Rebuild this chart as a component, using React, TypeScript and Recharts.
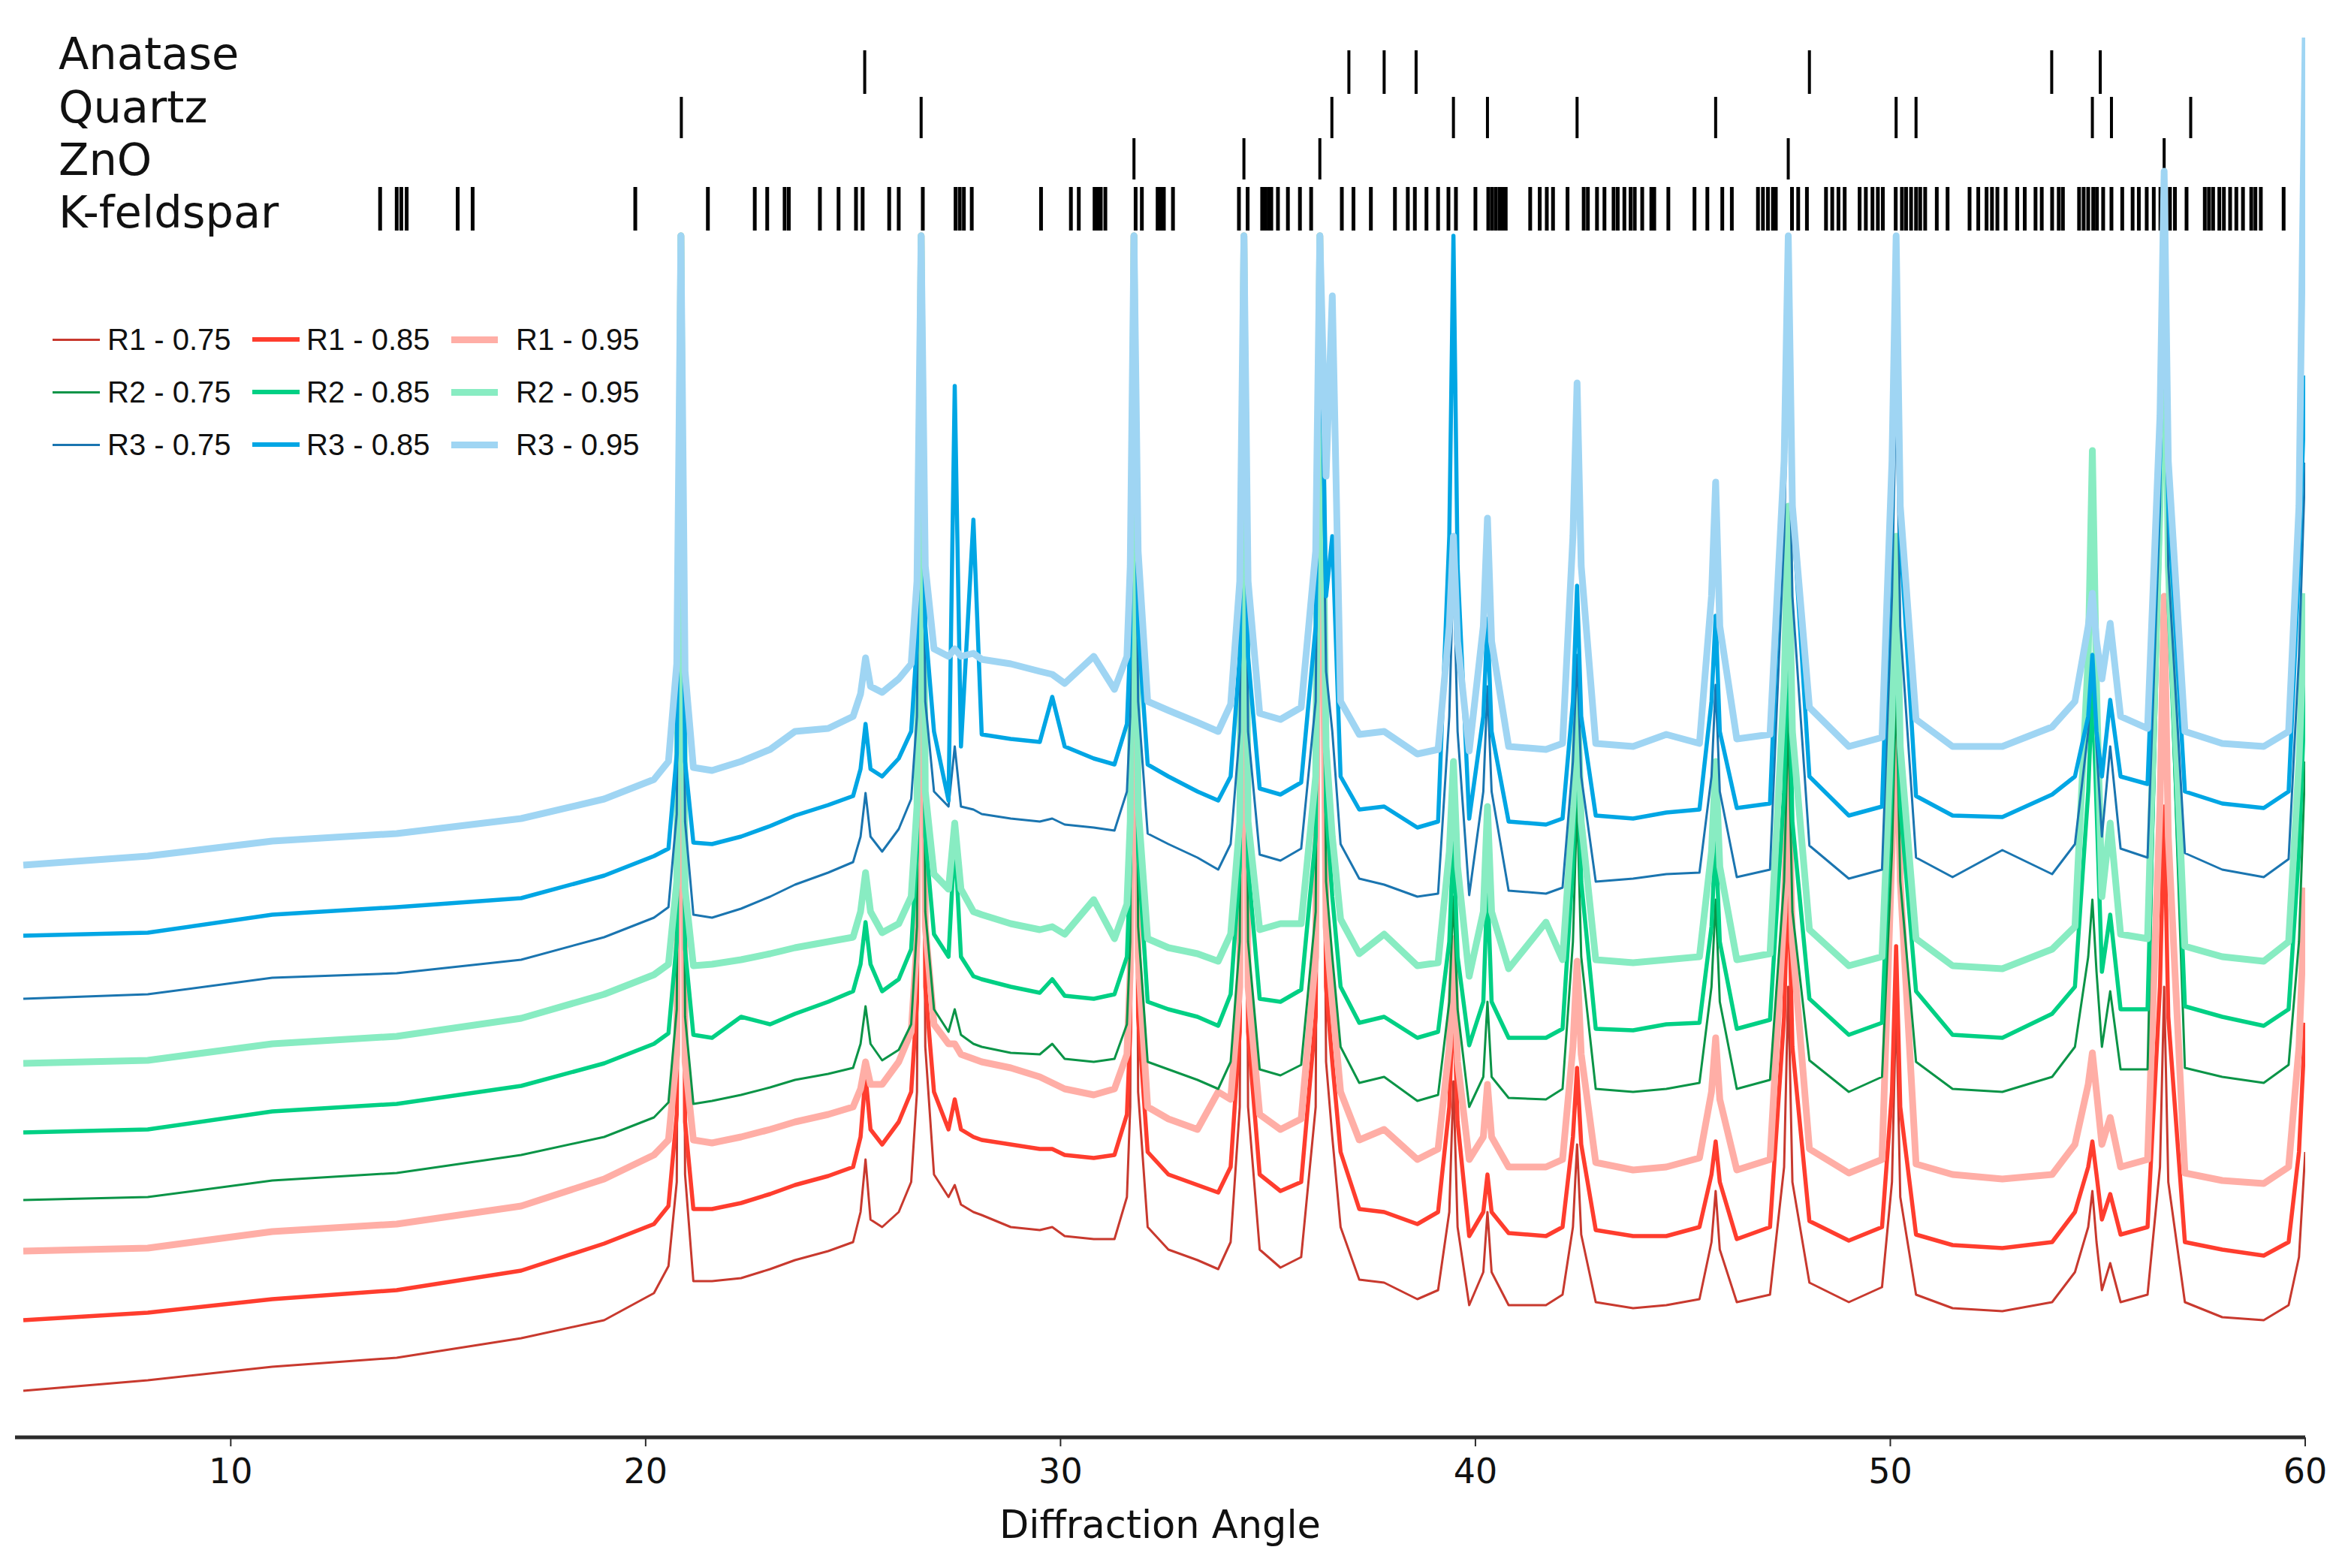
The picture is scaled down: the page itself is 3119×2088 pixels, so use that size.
import React from 'react';
import { LineChart, Line, XAxis, YAxis, ReferenceLine } from 'recharts';

// 2-theta grid shared by all nine patterns
const ANGLES = [
  5, 8, 11, 14, 17, 19, 20.2, 20.55, 20.75, 20.85,
  20.95, 21.15, 21.6, 22.3, 23.0, 23.6, 24.4, 25.0, 25.18, 25.3,
  25.42, 25.7, 26.1, 26.4, 26.54, 26.64, 26.74, 26.95, 27.3, 27.45,
  27.6, 27.9, 28.1, 28.8, 29.5, 29.8, 30.1, 30.8, 31.3, 31.6,
  31.68, 31.77, 31.87, 32.1, 32.6, 33.3, 33.8, 34.1, 34.32, 34.42,
  34.52, 34.8, 35.3, 35.8, 36.15, 36.25, 36.4, 36.55, 36.75, 37.2,
  37.8, 38.6, 39.1, 39.37, 39.47, 39.57, 39.85, 40.19, 40.29, 40.39,
  40.8, 41.7, 42.1, 42.35, 42.45, 42.55, 42.9, 43.8, 44.6, 45.4,
  45.69, 45.79, 45.89, 46.3, 47.1, 47.44, 47.54, 47.64, 48.05, 49.0,
  49.8, 50.04, 50.14, 50.24, 50.62, 51.5, 52.7, 53.9, 54.45, 54.77,
  54.87, 54.97, 55.1, 55.3, 55.55, 56.2, 56.5, 56.6, 56.7, 57.1,
  58.0, 59.0, 59.6, 59.85, 60,
];

// offset intensities (a.u.), strong reflections are cut at the panel top
const R1_075 = [
  31, 38, 47, 53, 66, 78, 96, 114, 170, 800,
  175, 104, 104, 106, 112, 118, 124, 130, 150, 185,
  145, 140, 150, 170, 230, 800, 260, 175, 160, 168,
  155, 150, 148, 140, 138, 140, 134, 132, 132, 160,
  220, 800, 230, 140, 125, 118, 112, 130, 220, 800,
  220, 125, 113, 120, 220, 800, 250, 200, 140, 105,
  103, 92, 98, 150, 237, 140, 88, 110, 150, 110,
  88, 88, 95, 140, 195, 135, 90, 86, 88, 92,
  130, 164, 125, 90, 95, 180, 300, 170, 103, 90,
  100, 170, 290, 160, 95, 86, 84, 90, 110, 140,
  164, 130, 98, 116, 90, 95, 180, 300, 170, 90,
  80, 78, 88, 120, 190,
];
const R1_085 = [
  78, 83, 92, 98, 111, 129, 142, 154, 215, 800,
  210, 152, 152, 156, 162, 168, 174, 180, 200, 241,
  205, 195, 210, 230, 290, 800, 300, 230, 205, 225,
  205, 200, 198, 195, 192, 192, 188, 186, 188, 215,
  270, 800, 280, 190, 175, 168, 163, 180, 270, 800,
  270, 175, 164, 170, 280, 800, 300, 250, 190, 152,
  150, 142, 150, 220, 297, 210, 134, 150, 175, 150,
  136, 134, 140, 200, 246, 195, 138, 134, 134, 140,
  175, 197, 170, 132, 140, 280, 380, 260, 144, 131,
  140, 230, 327, 220, 135, 128, 126, 130, 150, 180,
  197, 175, 145, 162, 135, 140, 300, 420, 280, 130,
  125, 121, 130, 190, 276,
];
const R1_095 = [
  124, 126, 137, 142, 154, 172, 188, 198, 255, 800,
  250, 198, 196, 200, 205, 210, 215, 220, 232, 250,
  235, 235, 250, 270, 330, 800, 340, 275, 262, 262,
  255, 252, 250, 246, 240, 236, 232, 228, 232, 255,
  310, 800, 320, 220, 212, 205, 230, 225, 300, 800,
  300, 215, 205, 212, 320, 800, 340, 290, 230, 198,
  205, 185, 192, 260, 332, 250, 185, 200, 235, 200,
  180, 180, 185, 260, 317, 255, 183, 178, 180, 186,
  230, 266, 225, 178, 185, 350, 450, 330, 192, 176,
  185, 390, 500, 370, 182, 175, 172, 175, 195, 235,
  256, 230, 195, 213, 180, 185, 420, 560, 400, 176,
  171, 169, 180, 260, 366,
];
const R2_075 = [
  158, 160, 171, 176, 188, 200, 213, 223, 285, 800,
  280, 222, 224, 228, 233, 238, 242, 246, 262, 287,
  262, 251, 258, 275, 340, 800, 350, 285, 270, 285,
  268, 262, 260, 256, 255, 262, 252, 250, 252, 275,
  330, 800, 340, 250, 245, 238, 232, 250, 330, 800,
  330, 245, 241, 248, 350, 800, 370, 320, 260, 236,
  240, 224, 228, 290, 360, 285, 220, 240, 290, 240,
  226, 225, 232, 330, 424, 320, 232, 230, 232, 236,
  300, 358, 290, 232, 238, 370, 480, 350, 251, 230,
  240, 390, 500, 370, 250, 232, 230, 240, 260, 320,
  358, 310, 260, 297, 245, 245, 600, 800, 560, 246,
  240, 236, 248, 330, 450,
];
const R2_085 = [
  203, 205, 217, 222, 234, 249, 262, 269, 330, 800,
  325, 268, 266, 280, 275, 282, 290, 297, 315, 343,
  315, 297, 305, 325, 390, 800, 400, 335, 320, 399,
  320, 307, 305, 300, 296, 305, 294, 292, 295, 320,
  380, 800, 390, 290, 285, 280, 274, 295, 380, 800,
  380, 292, 290, 298, 400, 800, 420, 360, 300, 276,
  280, 266, 270, 330, 400, 320, 261, 290, 370, 290,
  266, 266, 272, 380, 475, 370, 272, 271, 275, 276,
  340, 400, 330, 272, 278, 430, 540, 410, 292, 268,
  276, 440, 560, 420, 297, 268, 266, 282, 300, 430,
  501, 420, 310, 348, 285, 285, 600, 800, 560, 287,
  280, 274, 285, 390, 501,
];
const R2_095 = [
  249, 251, 262, 267, 279, 295, 308, 315, 370, 800,
  365, 314, 315, 318, 322, 326, 330, 333, 350, 376,
  350, 336, 342, 360, 420, 800, 430, 375, 365, 409,
  365, 350, 348, 342, 338, 340, 335, 358, 332, 355,
  410, 800, 420, 332, 326, 322, 317, 335, 410, 800,
  410, 338, 342, 342, 440, 800, 460, 400, 345, 322,
  335, 314, 316, 390, 450, 380, 307, 350, 420, 350,
  312, 343, 318, 420, 501, 410, 318, 316, 318, 320,
  390, 450, 380, 318, 322, 500, 620, 470, 338, 314,
  320, 480, 600, 460, 332, 314, 312, 325, 340, 520,
  657, 500, 360, 409, 335, 332, 620, 800, 580, 327,
  320, 317, 330, 450, 562,
];
const R3_075 = [
  292, 295, 306, 309, 318, 333, 346, 353, 415, 800,
  410, 348, 346, 352, 360, 368, 376, 383, 400, 429,
  400, 390, 405, 425, 480, 800, 490, 430, 420, 460,
  420, 418, 415, 412, 410, 412, 408, 406, 404, 430,
  480, 800, 490, 402, 395, 386, 378, 395, 470, 800,
  470, 388, 384, 392, 490, 800, 510, 470, 395, 372,
  368, 360, 362, 480, 580, 470, 361, 430, 500, 430,
  364, 362, 366, 450, 521, 440, 370, 372, 375, 376,
  440, 501, 430, 373, 378, 600, 720, 560, 394, 372,
  378, 560, 700, 540, 386, 373, 391, 375, 395, 470,
  521, 460, 400, 460, 392, 386, 620, 800, 580, 389,
  378, 373, 385, 520, 649,
];
const R3_085 = [
  334, 336, 348, 353, 359, 374, 387, 392, 455, 800,
  450, 396, 395, 400, 407, 414, 421, 427, 445, 475,
  445, 440, 452, 470, 530, 800, 540, 470, 424, 700,
  460, 611, 468, 465, 463, 493, 460, 452, 448, 475,
  530, 800, 540, 448, 440, 430, 424, 440, 520, 800,
  520, 432, 428, 436, 540, 800, 560, 600, 440, 418,
  420, 406, 410, 600, 800, 580, 412, 480, 545, 470,
  410, 408, 412, 490, 567, 480, 414, 412, 416, 418,
  490, 547, 470, 419, 422, 650, 800, 620, 440, 414,
  420, 620, 780, 600, 427, 414, 413, 428, 440, 480,
  521, 470, 440, 491, 440, 435, 650, 800, 620, 430,
  422, 419, 430, 580, 707,
];
const R3_095 = [
  381, 387, 397, 402, 412, 425, 438, 450, 515, 800,
  510, 446, 444, 450, 458, 470, 472, 480, 495, 519,
  500, 496, 505, 515, 570, 800, 580, 525, 520, 525,
  520, 522, 518, 515, 510, 508, 502, 520, 498, 520,
  580, 800, 590, 490, 484, 476, 470, 488, 570, 800,
  570, 482, 478, 486, 590, 800, 640, 760, 490, 468,
  470, 455, 458, 540, 600, 530, 457, 540, 612, 530,
  460, 458, 462, 600, 702, 580, 462, 460, 468, 462,
  560, 636, 540, 465, 468, 650, 800, 620, 486, 460,
  466, 650, 800, 620, 478, 460, 460, 473, 490, 540,
  562, 530, 505, 542, 480, 472, 680, 843, 650, 470,
  462, 460, 470, 620, 932,
];

const SERIES_NAMES = [
  'R1 - 0.75', 'R1 - 0.85', 'R1 - 0.95',
  'R2 - 0.75', 'R2 - 0.85', 'R2 - 0.95',
  'R3 - 0.75', 'R3 - 0.85', 'R3 - 0.95',
];
const SERIES_VALUES = [R1_075, R1_085, R1_095, R2_075, R2_085, R2_095, R3_075, R3_085, R3_095];

// reference phase positions (2-theta)
const PHASE_NAMES = ['Anatase', 'Quartz', 'ZnO', 'K-feldspar'];
const ANATASE = [25.28, 36.95, 37.8, 38.57, 48.05, 53.89, 55.06];
const QUARTZ = [20.86, 26.64, 36.54, 39.47, 40.29, 42.45, 45.79, 50.14, 50.62, 54.87, 55.33, 57.24, 59.96];
const ZNO = [31.77, 34.42, 36.25, 47.54, 56.6];
const K_FELDSPAR = [
  13.6, 14.0, 14.11, 14.24, 15.47, 15.83, 19.75, 21.5, 22.63, 22.93, 23.35, 23.45,
  24.2, 24.65, 25.07, 25.23, 25.87, 26.1, 26.68, 27.47, 27.57, 27.67, 27.86,
  29.53, 30.25, 30.44, 30.82, 30.9, 30.97, 31.08, 31.81, 31.96, 32.34, 32.42, 32.49,
  32.71, 34.3, 34.51, 34.86, 34.94, 35.02, 35.08, 35.24, 35.48, 35.77, 36.04, 36.78,
  37.06, 37.48, 38.06, 38.37, 38.54, 38.82, 39.1, 39.35, 39.53, 40.0, 40.31, 40.4,
  40.49, 40.58, 40.66, 40.73, 41.32, 41.55, 41.72, 41.87, 42.22, 42.61, 42.71, 42.93,
  43.11, 43.33, 43.43, 43.59, 43.74, 43.84, 44.02, 44.24, 44.31, 44.65, 45.28, 45.59,
  45.95, 46.18, 46.81, 46.93, 47.05, 47.17, 47.24, 47.63, 47.78, 47.99, 48.45, 48.6,
  48.75, 48.9, 49.26, 49.41, 49.57, 49.7, 49.82, 50.13, 50.28, 50.38, 50.5, 50.62,
  50.72, 50.84, 51.12, 51.38, 51.91, 52.12, 52.32, 52.45, 52.58, 52.78, 53.06, 53.24,
  53.5, 53.65, 53.9, 54.06, 54.16, 54.55, 54.66, 54.77, 54.89, 54.98, 55.13, 55.33,
  55.59, 55.84, 55.99, 56.18, 56.35, 56.51, 56.62, 56.74, 56.86, 57.14, 57.58, 57.68,
  57.78, 57.93, 58.04, 58.19, 58.34, 58.5, 58.7, 58.8, 58.93, 59.48,
];
const PHASE_POSITIONS = [ANATASE, QUARTZ, ZNO, K_FELDSPAR];

const X_TICKS = [10, 20, 30, 40, 50, 60];

// styling / layout
const W = 3119;
const H = 2088;
const FONT = '"DejaVu Sans", Verdana, sans-serif';
const LEGEND_FONT = '"Liberation Sans", Arial, sans-serif';
const COLORS = ['#c8392e', '#ff3d2e', '#ffaea6', '#0a9447', '#00d084', '#88ecc2', '#1a75b0', '#00a6e4', '#9fd5f3'];
const WIDTHS = [3, 5.5, 9, 3, 5.5, 9, 3, 5.5, 9];
// y bands (in intensity units) of the phase marker rows
const ROW_BANDS = [
  [894.5, 923.5],
  [865, 892.5],
  [837.5, 865],
  [803.5, 832.5],
];
const ROW_STROKES = [4, 4, 4, 5];
const LABEL_BASELINES = [92, 163, 233, 303];
const LEGEND_ROW_Y = [452, 522, 592];
const LEGEND_LINE_X = [[70, 133], [336, 399], [601, 663]];
const LEGEND_TEXT_X = [143, 408, 687];

const keyOf = (i: number) => `s${i}`;

const chartData = ANGLES.map((angle, i) => {
  const row: Record<string, number> = { angle };
  SERIES_VALUES.forEach((vals, s) => {
    row[keyOf(s)] = vals[i];
  });
  return row;
});

export default function App() {
  return (
    <div style={{ position: 'absolute', left: 0, top: 0, width: W, height: H, background: '#fff', overflow: 'hidden' }}>
      <LineChart width={W} height={H} data={chartData} margin={{ top: 50, right: 49, bottom: 14, left: 20 }}>
        <XAxis
          dataKey="angle"
          type="number"
          domain={[4.8, 60]}
          ticks={X_TICKS}
          allowDataOverflow
          height={160}
          tickSize={12}
          tickMargin={16}
          tick={{ fontSize: 46, fill: '#111', fontFamily: FONT }}
          axisLine={{ stroke: '#2b2b2b', strokeWidth: 5 }}
          tickLine={{ stroke: '#2b2b2b', strokeWidth: 2 }}
          label={{ value: 'Diffraction Angle', position: 'insideBottom', offset: 26, fontSize: 51, fill: '#111', fontFamily: FONT }}
        />
        <YAxis hide type="number" domain={[0, 932]} allowDataOverflow />
        {PHASE_POSITIONS.map((positions, r) =>
          positions.map((a, j) => (
            <ReferenceLine
              key={`ph-${r}-${j}`}
              segment={[{ x: a, y: ROW_BANDS[r][0] }, { x: a, y: ROW_BANDS[r][1] }]}
              stroke="#000"
              strokeWidth={ROW_STROKES[r]}
              ifOverflow="visible"
            />
          ))
        )}
        {SERIES_NAMES.map((name, s) => (
          <Line
            key={name}
            name={name}
            dataKey={keyOf(s)}
            type="linear"
            stroke={COLORS[s]}
            strokeWidth={WIDTHS[s]}
            strokeLinejoin="round"
            dot={false}
            activeDot={false}
            isAnimationActive={false}
          />
        ))}
      </LineChart>

      {PHASE_NAMES.map((name, r) => (
        <div
          key={name}
          style={{
            position: 'absolute',
            left: 78,
            top: LABEL_BASELINES[r] - 44,
            fontFamily: FONT,
            fontSize: 59,
            lineHeight: '48px',
            color: '#111',
            whiteSpace: 'nowrap',
          }}
        >
          {name}
        </div>
      ))}

      {SERIES_NAMES.map((name, s) => {
        const row = Math.floor(s / 3);
        const col = s % 3;
        const y = LEGEND_ROW_Y[row];
        const [x0, x1] = LEGEND_LINE_X[col];
        return (
          <React.Fragment key={`lg-${name}`}>
            <div
              style={{
                position: 'absolute',
                left: x0,
                top: y - WIDTHS[s] / 2,
                width: x1 - x0,
                height: WIDTHS[s],
                background: COLORS[s],
              }}
            />
            <div
              style={{
                position: 'absolute',
                left: LEGEND_TEXT_X[col],
                top: y - 20,
                fontFamily: LEGEND_FONT,
                fontSize: 40,
                lineHeight: '40px',
                color: '#111',
                whiteSpace: 'nowrap',
              }}
            >
              {name}
            </div>
          </React.Fragment>
        );
      })}
    </div>
  );
}
